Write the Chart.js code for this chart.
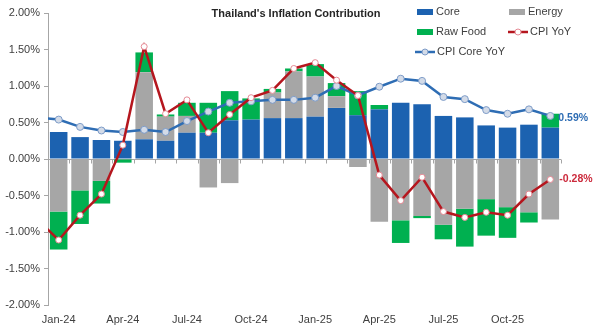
<!DOCTYPE html>
<html>
<head>
<meta charset="utf-8">
<script src="https://cdn.jsdelivr.net/npm/chart.js@4.4.1/dist/chart.umd.min.js"></script>
<style>
  html, body { margin: 0; padding: 0; background: #fff; }
  #wrap { width: 600px; height: 326px; }
</style>
</head>
<body>
<div id="wrap"><canvas id="myChart" width="600" height="326"></canvas></div>
<script>
// Dec-23 only feeds the line stubs that enter from the left edge
const months = ['Dec-23',
  'Jan-24', 'Feb-24', 'Mar-24', 'Apr-24', 'May-24', 'Jun-24', 'Jul-24', 'Aug-24', 'Sep-24', 'Oct-24', 'Nov-24', 'Dec-24',
  'Jan-25', 'Feb-25', 'Mar-25', 'Apr-25', 'May-25', 'Jun-25', 'Jul-25', 'Aug-25', 'Sep-25', 'Oct-25', 'Nov-25', 'Dec-25'];

const core    = [null, 0.37, 0.30, 0.26, 0.25, 0.27, 0.25, 0.36, 0.36, 0.53, 0.54, 0.56, 0.56,
                 0.58, 0.70, 0.60, 0.68, 0.77, 0.75, 0.59, 0.57, 0.46, 0.43, 0.47, 0.43];
const energy  = [null, -0.72, -0.43, -0.30, 0, 0.92, 0.33, 0.23, -0.39, -0.33, 0, 0.35, 0.64,
                 0.55, 0.16, -0.11, -0.86, -0.84, -0.78, -0.90, -0.68, -0.55, -0.66, -0.73, -0.83];
const rawFood = [null, -0.52, -0.46, -0.31, -0.05, 0.27, 0.03, 0.18, 0.41, 0.40, 0.29, 0.05, 0.04,
                 0.17, 0.18, 0.33, 0.06, -0.31, -0.03, -0.20, -0.52, -0.50, -0.42, -0.14, 0.19];
const cpiYoY  = [-0.83, -1.11, -0.77, -0.48, 0.19, 1.54, 0.62, 0.81, 0.36, 0.61, 0.84, 0.94, 1.24,
                 1.32, 1.08, 0.87, -0.22, -0.57, -0.25, -0.72, -0.80, -0.73, -0.77, -0.48, -0.28];
const coreYoY = [0.57, 0.54, 0.44, 0.39, 0.37, 0.40, 0.37, 0.52, 0.65, 0.77, 0.79, 0.81, 0.81,
                 0.84, 1.00, 0.87, 0.99, 1.10, 1.07, 0.85, 0.82, 0.67, 0.62, 0.68, 0.59];

const yTicks = [-2, -1.5, -1, -0.5, 0, 0.5, 1, 1.5, 2];

const FONT = '"Liberation Sans", Arial, sans-serif';
const TXT = '#404040';
const AXIS = '#A6A6A6';
const C_CORE = '#1C62B0', C_ENERGY = '#A6A6A6', C_FOOD = '#00B050';
const C_CPI = '#B5161E', C_COREYOY = '#2E6DB4';

// zero line, title, legend and end labels
const extras = {
  id: 'extras',
  beforeDatasetsDraw(chart) {
    const ctx = chart.ctx, a = chart.chartArea;
    const xs = chart.scales.x, ys = chart.scales.y;
    const y0 = Math.round(ys.getPixelForValue(0)) + 0.5;
    ctx.save();
    ctx.strokeStyle = AXIS;
    ctx.lineWidth = 1;
    ctx.beginPath();
    ctx.moveTo(a.left, y0);
    ctx.lineTo(a.right, y0);
    const half = (xs.getPixelForValue(2) - xs.getPixelForValue(1)) / 2;
    for (let i = 1; i < months.length; i++) {
      const x = Math.round(xs.getPixelForValue(i) + half) + 0.5;
      ctx.moveTo(x, y0);
      ctx.lineTo(x, y0 + 4);
    }
    ctx.stroke();
    ctx.restore();
  },
  afterDraw(chart) {
    const ctx = chart.ctx;
    ctx.save();
    // title
    ctx.fillStyle = '#262626';
    ctx.font = 'bold 11px ' + FONT;
    ctx.textAlign = 'center';
    ctx.textBaseline = 'middle';
    ctx.fillText("Thailand's Inflation Contribution", 296, 14);

    // legend
    ctx.font = '11px ' + FONT;
    ctx.textAlign = 'left';
    function box(x, y, color, label) {
      ctx.fillStyle = color;
      ctx.fillRect(x, y - 3, 16, 6);
      ctx.fillStyle = TXT;
      ctx.fillText(label, x + 19, y);
    }
    function lineIcon(x, y, color, fill, border, label) {
      ctx.strokeStyle = color;
      ctx.lineWidth = 2.5;
      ctx.beginPath();
      ctx.moveTo(x, y);
      ctx.lineTo(x + 20, y);
      ctx.stroke();
      ctx.beginPath();
      ctx.arc(x + 10, y, 3, 0, Math.PI * 2);
      ctx.fillStyle = fill;
      ctx.fill();
      ctx.lineWidth = 1;
      ctx.strokeStyle = border;
      ctx.stroke();
      ctx.fillStyle = TXT;
      ctx.fillText(label, x + 22, y);
    }
    box(417, 12, C_CORE, 'Core');
    box(509, 12, C_ENERGY, 'Energy');
    box(417, 32, C_FOOD, 'Raw Food');
    lineIcon(508, 32, C_CPI, '#fff', '#E58A95', 'CPI YoY');
    lineIcon(415, 52, C_COREYOY, '#D3DBE8', '#7E9CC8', 'CPI Core YoY');

    // end labels
    const last = months.length - 1;
    const pCpi = chart.getDatasetMeta(0).data[last];
    const pCore = chart.getDatasetMeta(1).data[last];
    ctx.font = 'bold 10.5px ' + FONT;
    ctx.fillStyle = C_COREYOY;
    ctx.fillText(coreYoY[last].toFixed(2) + '%', pCore.x + 8, pCore.y + 2);
    ctx.fillStyle = '#CC2A3C';
    ctx.fillText(cpiYoY[last].toFixed(2) + '%', pCpi.x + 9, pCpi.y);
    ctx.restore();
  }
};

const ctx = document.querySelector('#myChart');
new Chart(ctx, {
  type: 'bar',
  data: {
    labels: months,
    datasets: [
      {
        type: 'line', label: 'CPI YoY', data: cpiYoY, stack: 'cpi', order: 0,
        borderColor: C_CPI, borderWidth: 2.5, tension: 0,
        pointRadius: 3, pointBackgroundColor: '#fff', pointBorderColor: '#E58A95', pointBorderWidth: 1
      },
      {
        type: 'line', label: 'CPI Core YoY', data: coreYoY, stack: 'coreyoy', order: 1,
        borderColor: C_COREYOY, borderWidth: 2.5, tension: 0,
        pointRadius: 3.5, pointBackgroundColor: '#D3DBE8', pointBorderColor: '#7E9CC8', pointBorderWidth: 1
      },
      { label: 'Core', data: core, backgroundColor: C_CORE, stack: 'bars', order: 2 },
      { label: 'Energy', data: energy, backgroundColor: C_ENERGY, stack: 'bars', order: 2 },
      { label: 'Raw Food', data: rawFood, backgroundColor: C_FOOD, stack: 'bars', order: 2 }
    ]
  },
  options: {
    responsive: false,
    animation: false,
    layout: { padding: { left: 0, right: 39, top: 13, bottom: 0 } },
    datasets: { bar: { barPercentage: 0.82, categoryPercentage: 1 } },
    plugins: { legend: { display: false }, tooltip: { enabled: false } },
    scales: {
      x: {
        stacked: true,
        min: 'Jan-24',
        grid: { display: false },
        border: { display: false },
        ticks: {
          autoSkip: false, maxRotation: 0, padding: 0,
          color: TXT, font: { family: FONT, size: 11 },
          callback(v) {
            const l = this.getLabelForValue(v);
            return /^(Jan|Apr|Jul|Oct)/.test(l) ? l : '';
          }
        },
        afterFit(s) { s.height = 21; }
      },
      y: {
        stacked: true,
        min: yTicks[0], max: yTicks[yTicks.length - 1],
        afterBuildTicks(s) { s.ticks = yTicks.map(v => ({ value: v })); },
        grid: { drawOnChartArea: false, tickLength: 4, color: AXIS },
        border: { color: AXIS },
        ticks: {
          padding: 4, color: TXT, font: { family: FONT, size: 11 },
          callback: v => v.toFixed(2) + '%'
        },
        afterFit(s) { s.width = 48; }
      }
    }
  },
  plugins: [extras]
});
</script>
</body>
</html>
